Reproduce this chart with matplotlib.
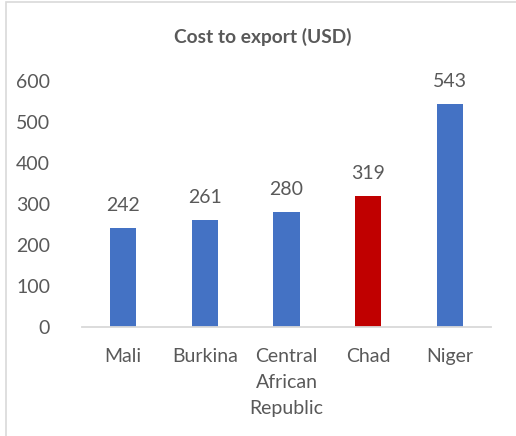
import matplotlib.pyplot as plt
from matplotlib.patches import Rectangle

# data
countries = ["Mali", "Burkina", "Central\nAfrican\nRepublic", "Chad", "Niger"]
cost_usd = [242, 261, 280, 319, 543]
bar_colors = ["#4472C4", "#4472C4", "#4472C4", "#C00000", "#4472C4"]
y_ticks = [0, 100, 200, 300, 400, 500, 600]

text_grey = "#595959"
plt.rcParams["font.family"] = ["Lato", "DejaVu Sans"]

fig = plt.figure(figsize=(5.16, 4.36), dpi=100)

# light frame round the chart area (only top and left fall inside the image)
W, H = 516, 436
fig.patches.append(Rectangle((5.5 / W, -0.1), 1.2, 1.1 - 2.5 / H,
                             transform=fig.transFigure, fill=False,
                             edgecolor="#D9D9D9", linewidth=1.2))

ax = fig.add_axes([82 / W, 1 - 327 / H, 409 / W, (327 - 81) / H])
x = range(len(countries))
bars = ax.bar(x, cost_usd, width=0.32, color=bar_colors)

ax.set_xlim(-0.5, len(countries) - 0.5)
ax.set_ylim(0, 600)
ax.set_yticks(y_ticks)
ax.set_xticks(list(x))
ax.set_xticklabels(countries, linespacing=1.65)
ax.tick_params(axis="both", length=0, labelsize=14, colors=text_grey)
ax.tick_params(axis="y", pad=23)
ax.tick_params(axis="x", pad=15)

for side in ("top", "right", "left"):
    ax.spines[side].set_visible(False)
ax.spines["bottom"].set_color("#D9D9D9")
ax.spines["bottom"].set_linewidth(1.3)

for rect, val in zip(bars, cost_usd):
    ax.annotate(str(val), (rect.get_x() + rect.get_width() / 2, val),
                xytext=(0, 10), textcoords="offset points",
                ha="center", va="bottom", fontsize=14, color=text_grey)

fig.text(263 / W, 1 - 37 / H, "Cost to export (USD)", ha="center", va="center",
         fontsize=13.8, fontweight="bold", color=text_grey)

fig.savefig("out.png", dpi=100)
